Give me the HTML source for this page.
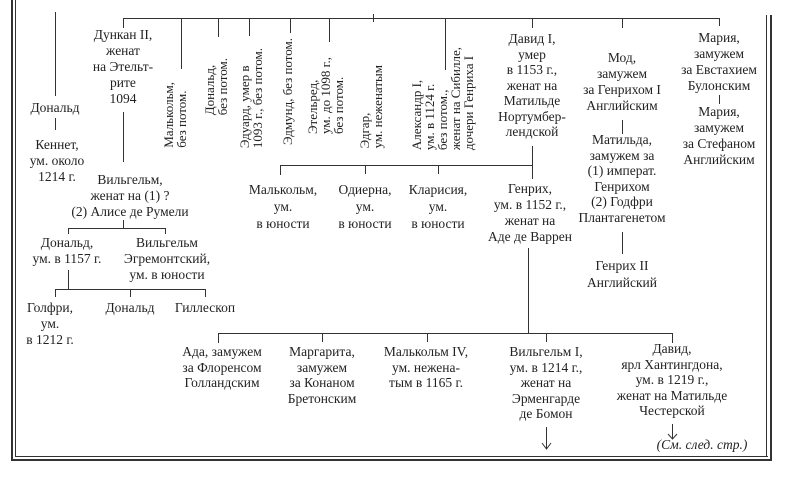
<!DOCTYPE html>
<html><head><meta charset="utf-8">
<style>
html,body{margin:0;padding:0;background:#fff;}
#c{position:relative;width:790px;height:496px;overflow:hidden;background:#fff;font-family:"Liberation Serif","Noto Serif CJK SC",serif;color:#222;}
.l{position:absolute;background:#333;}
.t{position:absolute;transform:translateX(-50%);text-align:center;white-space:nowrap;font-size:13.5px;line-height:16px;}
.v{position:absolute;writing-mode:vertical-rl;transform:rotate(180deg);white-space:nowrap;font-size:13px;line-height:13px;text-align:left;}
</style></head><body><div id="c">
<!-- borders -->
<div class="l" style="left:11px;top:0;width:1.5px;height:461px"></div>
<div class="l" style="left:15px;top:0;width:1px;height:457px"></div>
<div class="l" style="left:11px;top:459px;width:761px;height:1.5px"></div>
<div class="l" style="left:15px;top:456px;width:753px;height:1px"></div>
<div class="l" style="left:770px;top:15px;width:1.5px;height:446px"></div>
<div class="l" style="left:766px;top:15px;width:1px;height:442px"></div>

<!-- top bar -->
<div class="l" style="left:123px;top:18px;width:597px;height:1px"></div>
<div class="l" style="left:123px;top:18px;width:1px;height:10px"></div>
<div class="l" style="left:181px;top:18px;width:1px;height:51px"></div>
<div class="l" style="left:218px;top:18px;width:1px;height:19px"></div>
<div class="l" style="left:249px;top:18px;width:1px;height:18px"></div>
<div class="l" style="left:290px;top:18px;width:1px;height:15px"></div>
<div class="l" style="left:329px;top:18px;width:1px;height:24px"></div>
<div class="l" style="left:373px;top:14px;width:1px;height:8px"></div>
<div class="l" style="left:445px;top:18px;width:1px;height:52px"></div>
<div class="l" style="left:532px;top:18px;width:1px;height:10px"></div>
<div class="l" style="left:622px;top:18px;width:1px;height:10px"></div>
<div class="l" style="left:719px;top:18px;width:1px;height:8px"></div>

<!-- Donald left -->
<div class="l" style="left:55px;top:12px;width:1px;height:84px"></div>
<div class="t" style="left:55px;top:100px">Дональд</div>
<div class="l" style="left:55px;top:118px;width:1px;height:12px"></div>
<div class="t" style="left:57px;top:137px">Кеннет,<br>ум. около<br>1214 г.</div>

<!-- Duncan -->
<div class="t" style="left:123px;top:27px">Дункан II,<br>женат<br>на Этельт-<br>рите<br>1094</div>
<div class="l" style="left:123px;top:112px;width:1px;height:50px"></div>
<div class="t" style="left:130px;top:172px">Вильгельм,<br>женат на (1) ?<br>(2) Алисе де Румели</div>
<div class="l" style="left:123px;top:220px;width:1px;height:8px"></div>
<div class="l" style="left:68px;top:228px;width:97px;height:1px"></div>
<div class="l" style="left:68px;top:228px;width:1px;height:6px"></div>
<div class="l" style="left:165px;top:228px;width:1px;height:6px"></div>
<div class="t" style="left:67px;top:235px">Дональд,<br>ум. в 1157 г.</div>
<div class="t" style="left:167px;top:235px">Вильгельм<br>Эгремонтский,<br>ум. в юности</div>
<div class="l" style="left:68px;top:270px;width:1px;height:19px"></div>
<div class="l" style="left:55px;top:289px;width:150px;height:1px"></div>
<div class="l" style="left:55px;top:289px;width:1px;height:8px"></div>
<div class="l" style="left:130px;top:289px;width:1px;height:8px"></div>
<div class="l" style="left:205px;top:289px;width:1px;height:8px"></div>
<div class="t" style="left:50px;top:300px">Голфри,<br>ум.<br>в 1212 г.</div>
<div class="t" style="left:130px;top:300px">Дональд</div>
<div class="t" style="left:205px;top:300px">Гиллескоп</div>

<!-- vertical names -->
<div class="v" style="left:162px;bottom:348px">Малькольм,<br>без потом.</div>
<div class="v" style="left:203px;bottom:381px">Дональд,<br>без потом.</div>
<div class="v" style="left:238px;bottom:348px">Эдуард, умер в<br>1093 г., без потом.</div>
<div class="v" style="left:281px;bottom:351px">Эдмунд, без потом.</div>
<div class="v" style="left:306px;bottom:362px">Этельред,<br>ум. до 1098 г.,<br>без потом.</div>
<div class="v" style="left:358px;bottom:348px">Эдгар,<br>ум. неженатым</div>
<div class="v" style="left:410px;bottom:346px">Александр I,<br>ум. в 1124 г.<br>без потом.,<br>женат на Сибилле,<br>дочери Генриха I</div>

<!-- David I -->
<div class="t" style="left:532px;top:31px;line-height:15.5px">Давид I,<br>умер<br>в 1153 г.,<br>женат на<br>Матильде<br>Нортумбер-<br>лендской</div>
<div class="l" style="left:532px;top:146px;width:1px;height:20px"></div>
<div class="l" style="left:280px;top:165px;width:253px;height:1px"></div>
<div class="l" style="left:280px;top:165px;width:1px;height:10px"></div>
<div class="l" style="left:365px;top:165px;width:1px;height:9px"></div>
<div class="l" style="left:438px;top:165px;width:1px;height:9px"></div>
<div class="l" style="left:532px;top:165px;width:1px;height:14px"></div>
<div class="t" style="left:283px;top:181px;line-height:17px">Малькольм,<br>ум.<br>в юности</div>
<div class="t" style="left:365px;top:181px;line-height:17px">Одиерна,<br>ум.<br>в юности</div>
<div class="t" style="left:438px;top:181px;line-height:17px">Кларисия,<br>ум.<br>в юности</div>
<div class="t" style="left:530px;top:181px">Генрих,<br>ум. в 1152 г.,<br>женат на<br>Аде де Варрен</div>

<!-- Maud -->
<div class="t" style="left:622px;top:50px">Мод,<br>замужем<br>за Генрихом I<br>Английским</div>
<div class="l" style="left:622px;top:120px;width:1px;height:14px"></div>
<div class="t" style="left:622px;top:132px;line-height:15.5px">Матильда,<br>замужем за<br>(1) императ.<br>Генрихом<br>(2) Годфри<br>Плантагенетом</div>
<div class="l" style="left:622px;top:232px;width:1px;height:22px"></div>
<div class="t" style="left:622px;top:257px;line-height:17px">Генрих II<br>Английский</div>

<!-- Maria -->
<div class="t" style="left:719px;top:30px">Мария,<br>замужем<br>за Евстахием<br>Булонским</div>
<div class="l" style="left:719px;top:95px;width:1px;height:9px"></div>
<div class="t" style="left:719px;top:104px">Мария,<br>замужем<br>за Стефаном<br>Английским</div>

<!-- Henry children -->
<div class="l" style="left:528px;top:248px;width:1px;height:86px"></div>
<div class="l" style="left:218px;top:333px;width:455px;height:1px"></div>
<div class="l" style="left:218px;top:333px;width:1px;height:10px"></div>
<div class="l" style="left:322px;top:333px;width:1px;height:9px"></div>
<div class="l" style="left:427px;top:333px;width:1px;height:9px"></div>
<div class="l" style="left:546px;top:333px;width:1px;height:9px"></div>
<div class="l" style="left:672px;top:333px;width:1px;height:10px"></div>
<div class="t" style="left:222px;top:344px;line-height:15.5px">Ада, замужем<br>за Флоренсом<br>Голландским</div>
<div class="t" style="left:322px;top:344px;line-height:15.5px">Маргарита,<br>замужем<br>за Конаном<br>Бретонским</div>
<div class="t" style="left:426px;top:344px;line-height:15.5px">Малькольм IV,<br>ум. нежена-<br>тым в 1165 г.</div>
<div class="t" style="left:546px;top:344px;line-height:15.5px">Вильгельм I,<br>ум. в 1214 г.,<br>женат на<br>Эрменгарде<br>де Бомон</div>
<div class="t" style="left:672px;top:341px;line-height:15.5px">Давид,<br>ярл Хантингдона,<br>ум. в 1219 г.,<br>женат на Матильде<br>Честерской</div>
<svg style="position:absolute;left:0;top:0" width="790" height="496">
<g stroke="#333" stroke-width="1" fill="none">
<path d="M546.5 427 V449 M542 443 L546.5 449 L551 443"/>
<path d="M672.5 424 V439 M668 434 L672.5 439 L677 434"/>
</g></svg>
<div class="t" style="left:702px;top:437px;font-style:italic">(См. след. стр.)</div>
</div></body></html>
